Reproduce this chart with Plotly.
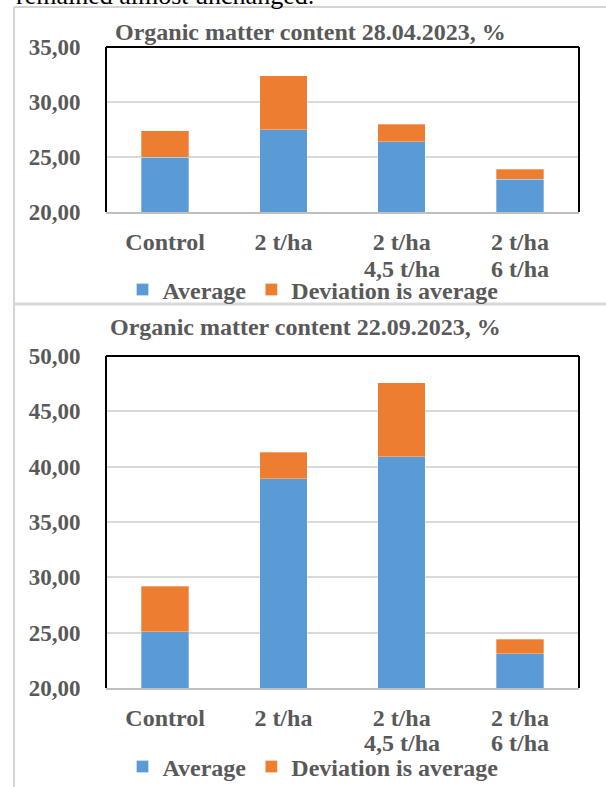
import plotly.graph_objects as go

# ---- data ----
categories = ["Control", "2 t/ha", "2 t/ha 4,5 t/ha", "2 t/ha 6 t/ha"]
label_line1 = ["Control", "2 t/ha", "2 t/ha", "2 t/ha"]
label_line2 = ["", "", "4,5 t/ha", "6 t/ha"]
avg_apr = [25.0, 27.5, 26.4, 23.0]
dev_apr = [2.4, 4.9, 1.6, 0.9]
avg_sep = [25.1, 38.9, 40.9, 23.1]
dev_sep = [4.1, 2.4, 6.7, 1.3]
title_apr = "Organic matter content 28.04.2023, %"
title_sep = "Organic matter content 22.09.2023, %"
series_names = ["Average", "Deviation is average"]
range_apr = [20, 35]
range_sep = [20, 50]

W, H = 606, 787
BLUE = "#5B9BD5"
ORANGE = "#ED7D31"
TXT = "#595959"
FONT = "Liberation Serif"


def px(x):
    return x / W


def py(y):
    return 1 - y / H


fig = go.Figure()

for name, vals, col in [(series_names[0], avg_apr, BLUE), (series_names[1], dev_apr, ORANGE)]:
    fig.add_trace(go.Bar(x=categories, y=vals, name=name, marker=dict(color=col, line=dict(color="rgba(255,255,255,0.6)", width=0.5)),
                         xaxis="x", yaxis="y", legend="legend"))
for name, vals, col in [(series_names[0], avg_sep, BLUE), (series_names[1], dev_sep, ORANGE)]:
    fig.add_trace(go.Bar(x=categories, y=vals, name=name, marker=dict(color=col, line=dict(color="rgba(255,255,255,0.6)", width=0.5)),
                         xaxis="x2", yaxis="y2", legend="legend2"))

xdom = [px(106), px(579)]
tickfont_y = dict(family=FONT, size=23, color=TXT, weight="bold")
tickfont_x = dict(family=FONT, size=24, color=TXT, weight="bold")

common_x = dict(domain=xdom, showline=True, linecolor="#bfbfbf", linewidth=2, ticks="outside",
                ticklen=7, tickcolor="rgba(0,0,0,0)", tickfont=tickfont_x, showgrid=False,
                tickmode="array", tickvals=categories, ticktext=label_line1)
common_y = dict(dtick=5, tickformat=".2f", showgrid=True, gridcolor="#d9d9d9", gridwidth=2,
                zeroline=False, showline=False, ticks="outside", ticklen=20,
                tickcolor="rgba(0,0,0,0)", tickfont=tickfont_y)

legend_common = dict(orientation="h", xanchor="center", x=px(313), yanchor="middle",
                     font=dict(family=FONT, size=24, color=TXT, weight="bold"),
                     bgcolor="rgba(0,0,0,0)", itemwidth=30, tracegroupgap=0, traceorder="normal")

fig.update_layout(
    width=W, height=H, autosize=False,
    margin=dict(l=0, r=0, t=0, b=0, autoexpand=False),
    paper_bgcolor="white", plot_bgcolor="white",
    barmode="stack", bargap=0.6,
    separators=", ",
    showlegend=True,
    xaxis=dict(anchor="y", **common_x),
    yaxis=dict(domain=[py(212), py(47)], range=range_apr, anchor="x", **common_y),
    xaxis2=dict(anchor="y2", **common_x),
    yaxis2=dict(domain=[py(688), py(356)], range=range_sep, anchor="x2", **common_y),
    legend=dict(y=py(290), **legend_common),
    legend2=dict(y=py(767), **legend_common),
)

shapes = []
# plot frames (left, top, right) in black
for xa, ya in [("x", "y"), ("x2", "y2")]:
    xr, yr = f"{xa} domain", f"{ya} domain"
    shapes.append(dict(type="line", xref=xr, yref=yr, x0=0, x1=0, y0=0, y1=1, line=dict(color="black", width=2)))
    shapes.append(dict(type="line", xref=xr, yref=yr, x0=0, x1=1, y0=1, y1=1, line=dict(color="black", width=2)))
    shapes.append(dict(type="line", xref=xr, yref=yr, x0=1, x1=1, y0=0, y1=1, line=dict(color="black", width=2)))
# page/table frame
shapes.append(dict(type="line", xref="paper", yref="paper", x0=px(14), x1=1, y0=py(7), y1=py(7), line=dict(color="#d4d4d4", width=2)))
shapes.append(dict(type="line", xref="paper", yref="paper", x0=px(14), x1=px(14), y0=py(7), y1=0, line=dict(color="#d4d4d4", width=2)))
shapes.append(dict(type="line", xref="paper", yref="paper", x0=px(14), x1=1, y0=py(304), y1=py(304), line=dict(color="#d9d9d9", width=3)))
fig.update_layout(shapes=shapes)

annotations = [
    dict(text=title_apr, xref="paper", yref="paper", x=px(310), y=py(32), xanchor="center", yanchor="middle",
         showarrow=False, font=dict(family=FONT, size=24, color=TXT, weight="bold")),
    dict(text=title_sep, xref="paper", yref="paper", x=px(305), y=py(327), xanchor="center", yanchor="middle",
         showarrow=False, font=dict(family=FONT, size=24, color=TXT, weight="bold")),
    dict(text="remained almost unchanged.", xref="paper", yref="paper", x=px(14), y=py(12), xanchor="left", yanchor="bottom",
         showarrow=False, font=dict(family=FONT, size=26, color="black")),
]
# second line of the category labels, placed on the category axes
for xa, ypix in [("x", 269), ("x2", 743)]:
    for cat, txt in zip(categories, label_line2):
        if txt:
            annotations.append(dict(text=txt, xref=xa, yref="paper", x=cat, y=py(ypix), xanchor="center",
                                    yanchor="middle", showarrow=False, font=tickfont_x))
fig.update_layout(annotations=annotations)

fig.write_html("out.html", config={"displayModeBar": False},
               post_script="document.body.style.margin='0';")
